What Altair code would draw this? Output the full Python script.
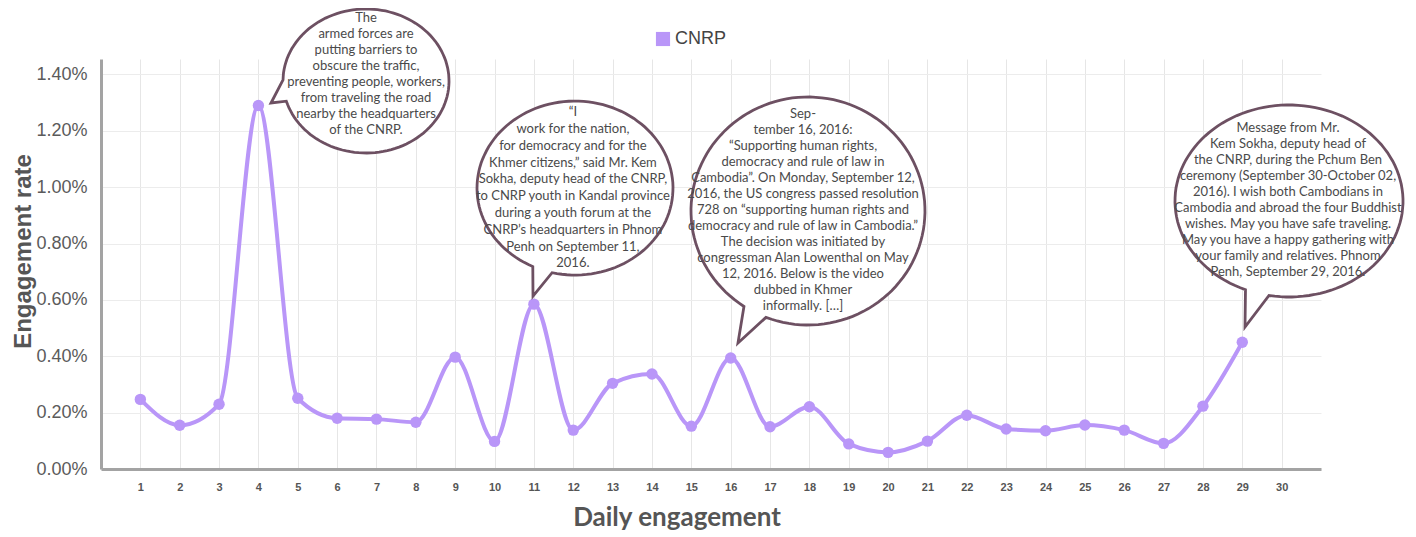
import math
import altair as alt
import pandas as pd

# ---------------- data ----------------
days = list(range(1, 30))
rates = [0.247, 0.155, 0.230, 1.290, 0.251, 0.180, 0.177, 0.166, 0.397, 0.098,
         0.585, 0.138, 0.304, 0.337, 0.152, 0.394, 0.150, 0.221, 0.089, 0.059,
         0.099, 0.191, 0.142, 0.136, 0.156, 0.138, 0.091, 0.223, 0.450]
series_name = "CNRP"
x_tick_values = list(range(1, 31))
y_tick_values = [0.0, 0.2, 0.4, 0.6, 0.8, 1.0, 1.2, 1.4]

note_days = [4, 11, 16, 29]
note_texts = [
    ["The", "armed forces are", "putting barriers to", "obscure the traffic,",
     "preventing people, workers,", "from traveling the road",
     "nearby the headquarters", "of the CNRP."],
    ["\u201cI", "work for the nation,", "for democracy and for the",
     "Khmer citizens,\u201d said Mr. Kem", "Sokha, deputy head of the CNRP,",
     "to CNRP youth in Kandal province", "during a youth forum at the",
     "CNRP\u2019s headquarters in Phnom", "Penh on September 11,", "2016."],
    ["Sep-", "tember 16, 2016:", "\u201cSupporting human rights,",
     "democracy and rule of law in", "Cambodia\u201d. On Monday, September 12,",
     "2016, the US congress passed resolution",
     "728 on \u201csupporting human rights and",
     "democracy and rule of law in Cambodia.\u201d",
     "The decision was initiated by", "congressman Alan Lowenthal on May",
     "12, 2016. Below is the video", "dubbed in Khmer", "informally. [\u2026]"],
    ["Message from Mr.", "Kem Sokha, deputy head of",
     "the CNRP, during the Pchum Ben", "ceremony (September 30-October 02,",
     "2016). I wish both Cambodians in", "Cambodia and abroad the four Buddhist",
     "wishes. May you have safe traveling.", "May you have a happy gathering with",
     "your family and relatives. Phnom", "Penh, September 29, 2016."],
]

# ---------------- styles / layout (pixel offsets relative to the data point) ----------------
W, H = 1220, 410
LINE_COLOR = "#b996f8"
BUBBLE_STROKE = "#6d5062"
TEXT_COLOR = "#4a4a4a"

bubble_styles = [
    dict(c=(107.6, -24.5), rx=83, ry=72, b1=(26.6, -25.5), b2=(28.6, -4.5), tip=(12.6, -2.5),
         tdx=107.6, tdy=-83.5, lh=16.0),
    dict(c=(41.1, -116.1), rx=98, ry=87, b1=(-1.9, -36.1), b2=(18.1, -31.1), tip=(-0.9, -8.1),
         tdx=39.0, tdy=-188.0, lh=16.8),
    dict(c=(77.3, -147.0), rx=117, ry=114, b1=(12.3, -50.0), b2=(34.3, -38.0), tip=(7.3, -15.0),
         tdx=72.3, tdy=-240.0, lh=16.0),
    dict(c=(46.7, -141.2), rx=114, ry=96, b1=(-0.3, -45.2), b2=(25.7, -42.2), tip=(2.7, -15.2),
         tdx=45.7, tdy=-210.0, lh=16.0),
]


def bubble_path(s):
    cx, cy = s["c"]
    rx, ry = s["rx"], s["ry"]

    def ang(p):
        return math.atan2((p[1] - cy) / ry, (p[0] - cx) / rx)

    a1, a2 = ang(s["b1"]), ang(s["b2"])
    d = (a2 - a1) % (2 * math.pi)
    if d < math.pi:
        start, end = a2, a1
    else:
        start, end = a1, a2
    while end <= start:
        end += 2 * math.pi
    n = 120
    pts = []
    for i in range(n + 1):
        t = start + (end - start) * i / n
        pts.append((cx + rx * math.cos(t), cy + ry * math.sin(t)))
    tx, ty = s["tip"]
    path = f"M{tx:.1f},{ty:.1f}"
    for x, y in pts:
        path += f"L{x:.1f},{y:.1f}"
    return path + "Z"


df = pd.DataFrame({"day": days, "rate": rates, "series": [series_name] * len(days)})

x_scale = alt.Scale(domain=[0, 31], nice=False, zero=False)
y_scale = alt.Scale(domain=[0, 1.455], nice=False, zero=True)
color_scale = alt.Scale(domain=[series_name], range=[LINE_COLOR])

x_axis = alt.Axis(
    values=x_tick_values, grid=True, gridColor="#e6e6e6", gridWidth=1,
    domain=True, domainColor="#a3a3a3", domainWidth=3, ticks=False,
    labelFont="Liberation Sans Narrow, Liberation Sans", labelFontSize=11,
    labelFontWeight="bold", labelColor="#555555", labelPadding=12,
    title="Daily engagement", titleFont="Lato", titleFontSize=26,
    titleFontWeight="bold", titleColor="#555555", titleX=575.5, titleY=56,
    titleAlign="center", titleBaseline="alphabetic",
)
y_axis = alt.Axis(
    values=y_tick_values, grid=True, gridColor="#ececec", gridWidth=1,
    domain=True, domainColor="#a3a3a3", domainWidth=3, ticks=False,
    labelFont="Liberation Sans", labelFontSize=18, labelColor="#5b5b5b",
    labelPadding=14, labelExpr="format(datum.value, '.2f') + '%'",
    title="Engagement rate", titleFont="Liberation Sans", titleFontSize=24,
    titleFontWeight="bold", titleColor="#555555", titleAngle=-90,
    titleX=-71, titleY=192, titleAlign="center", titleBaseline="alphabetic",
)

legend = alt.Legend(
    orient="none", legendX=553, legendY=-29, title=None,
    symbolType="square", symbolSize=200, symbolFillColor=LINE_COLOR,
    symbolStrokeColor=LINE_COLOR, symbolStrokeWidth=0,
    labelFont="Liberation Sans", labelFontSize=18,
    labelColor="#444444", padding=0, labelOffset=3,
)

base = alt.Chart(df)

line = base.mark_line(interpolate="monotone", strokeWidth=4).encode(
    x=alt.X("day:Q", scale=x_scale, axis=x_axis),
    y=alt.Y("rate:Q", scale=y_scale, axis=y_axis),
    color=alt.Color("series:N", scale=color_scale, legend=legend),
)

points = base.mark_point(filled=True, size=130, opacity=1).encode(
    x="day:Q",
    y="rate:Q",
    color=alt.Color("series:N", scale=color_scale, legend=legend),
)

layers = [line, points]
for day, lines, s in zip(note_days, note_texts, bubble_styles):
    ndf = pd.DataFrame({"day": [day], "rate": [rates[day - 1]], "txt": ["\n".join(lines)]})
    shape = alt.Chart(ndf).mark_point(
        shape=bubble_path(s), size=4, filled=True, fill="white", fillOpacity=1,
        stroke=BUBBLE_STROKE, strokeWidth=2.8, opacity=1, strokeJoin="miter",
    ).encode(x="day:Q", y="rate:Q")
    text = alt.Chart(ndf).mark_text(
        font="Lato", fontSize=13, color=TEXT_COLOR, align="center",
        baseline="alphabetic", lineBreak="\n", lineHeight=s["lh"],
        dx=s["tdx"], dy=s["tdy"],
    ).encode(x="day:Q", y="rate:Q", text="txt:N")
    layers += [shape, text]

chart = alt.layer(*layers).properties(
    width=W, height=H,
    autosize=alt.AutoSizeParams(type="none"),
    padding={"left": 93, "top": 51, "right": 87, "bottom": 62},
    background="white",
).configure_view(stroke=None)

chart.save("out.html", embed_options={"renderer": "svg", "actions": False})
